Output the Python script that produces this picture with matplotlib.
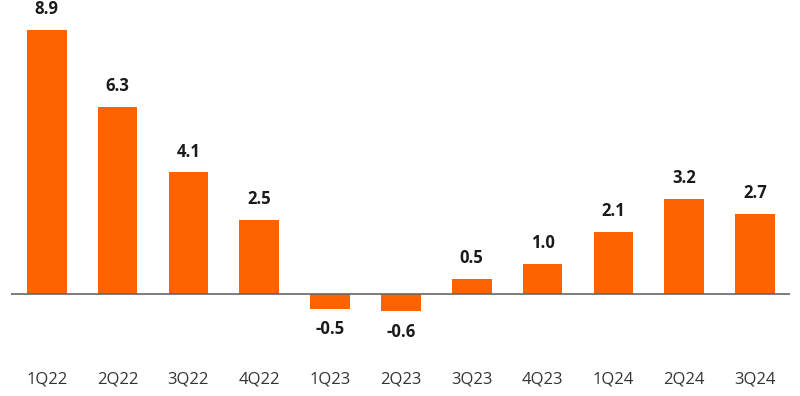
import numpy as np
import matplotlib.pyplot as plt

quarters = ["1Q22", "2Q22", "3Q22", "4Q22", "1Q23", "2Q23", "3Q23", "4Q23", "1Q24", "2Q24", "3Q24"]
values = [8.9, 6.3, 4.1, 2.5, -0.5, -0.6, 0.5, 1.0, 2.1, 3.2, 2.7]

plt.rcParams['font.family'] = ['Open Sans', 'DejaVu Sans']

fig = plt.figure(figsize=(8, 3.96), dpi=100)
ax = fig.add_axes([11.3 / 800, 66 / 396, (790.4 - 11.3) / 800, 320 / 396])

x = np.arange(len(quarters))
bars = ax.bar(x, values, width=0.56, color="#FF6200")
ax.axhline(0, color="#666666", lw=1.2, zorder=3)

for xi, v in zip(x, values):
    if v >= 0:
        ax.annotate(f"{v:.1f}", (xi, v), xytext=(0, 8.5), textcoords="offset points",
                    ha="center", va="bottom", fontsize=12, fontweight="bold", color="#1a1a1a")
    else:
        ax.annotate(f"{v:.1f}", (xi, v), xytext=(0, -8.5), textcoords="offset points",
                    ha="center", va="top", fontsize=12, fontweight="bold", color="#1a1a1a")

ax.set_xlim(-0.5, len(quarters) - 0.5)
ax.set_ylim(-1.226, 9.584)
ax.set_xticks(x)
ax.set_xticklabels(quarters, fontsize=12, color="#333333")
ax.tick_params(axis="x", length=0, pad=30)
ax.set_yticks([])
for s in ax.spines.values():
    s.set_visible(False)

fig.savefig("out.png", dpi=100)
